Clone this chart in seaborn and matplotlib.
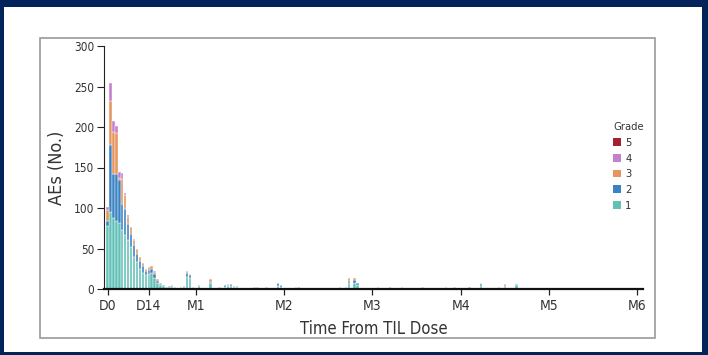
import matplotlib
matplotlib.use("Agg")
import matplotlib.pyplot as plt
from matplotlib.patches import Rectangle, Patch
import pandas as pd
import seaborn as sns

# Adverse events per day after TIL infusion, split by CTCAE grade
days = [0, 1, 2, 3, 4, 5, 6, 7, 8, 9, 10, 11, 12, 13, 14, 15, 16, 17, 18, 19,
        20, 21, 22, 23, 24, 25, 26, 27, 28, 29, 31, 33, 35, 38, 40, 41, 42, 43, 44,
        47, 50, 51, 54, 58, 59, 64, 65, 70, 76, 78, 79, 81, 82, 84, 85, 88, 92, 96,
        100, 107, 115, 118, 123, 127, 133, 135, 139, 145, 157, 168, 171, 178]
grade1 = [78, 95, 88, 84, 82, 73, 67, 60, 52, 40, 33, 25, 20, 17, 19, 20, 14, 8, 5, 4,
          2, 3, 3, 2, 1, 2, 3, 15, 13, 2, 4, 1, 7, 2, 3, 4, 4, 3, 3,
          1, 2, 2, 2, 4, 3, 2, 1, 1, 1, 1, 2, 2, 7, 8, 5, 1, 2, 1,
          2, 2, 3, 2, 1, 4, 2, 3, 5, 1, 1, 1, 1, 1]
grade2 = [6, 83, 54, 58, 53, 32, 32, 20, 16, 14, 10, 10, 8, 5, 4, 5, 4, 2, 1, 1,
          1, 1, 1, 0, 0, 1, 1, 5, 4, 1, 1, 0, 2, 1, 2, 1, 2, 1, 1,
          0, 1, 0, 1, 3, 2, 0, 1, 0, 0, 0, 0, 1, 3, 3, 2, 0, 0, 1,
          0, 0, 0, 1, 2, 2, 0, 1, 1, 0, 0, 0, 0, 0]
grade3 = [14, 54, 52, 50, 2, 31, 17, 9, 8, 7, 6, 5, 4, 3, 4, 4, 3, 2, 1, 0,
          0, 0, 1, 0, 0, 0, 0, 2, 2, 0, 0, 0, 3, 0, 0, 1, 0, 0, 0,
          0, 0, 0, 0, 1, 0, 0, 0, 0, 0, 0, 0, 0, 3, 2, 0, 0, 0, 0,
          0, 0, 0, 0, 0, 1, 0, 2, 0, 0, 0, 0, 0, 0]
grade4 = [3, 22, 14, 9, 8, 7, 3, 2, 1, 1, 1, 0, 0, 0, 0, 0, 1, 0, 0, 0,
          0, 0, 0, 0, 0, 0, 0, 0, 0, 0, 0, 0, 0, 0, 0, 0, 0, 0, 0,
          0, 0, 0, 0, 0, 0, 0, 0, 0, 0, 0, 0, 0, 1, 0, 0, 0, 0, 0,
          0, 0, 0, 0, 0, 0, 0, 0, 0, 0, 0, 0, 0, 0]
grade5 = [0] * len(days)

grade_levels = ["5", "4", "3", "2", "1"]
grade_colors = ["#a3212d", "#c47fcd", "#e6955f", "#3a82c2", "#62c0b6"]
tick_days = [0, 14, 30, 60, 90, 120, 150, 180]
tick_labels = ["D0", "D14", "M1", "M2", "M3", "M4", "M5", "M6"]

counts = {"1": grade1, "2": grade2, "3": grade3, "4": grade4, "5": grade5}
rows = []
for g, vals in counts.items():
    for d, v in zip(days, vals):
        if v > 0:
            rows.append({"day": d, "grade": g, "count": v})
df = pd.DataFrame(rows)
palette = dict(zip(grade_levels, grade_colors))

sns.set_style("white")
plt.rcParams["font.family"] = ["DejaVu Sans"]
plt.rcParams["font.stretch"] = "condensed"

fig = plt.figure(figsize=(7.08, 3.55), dpi=100)
fig.patch.set_facecolor("#03245a")
fig.patches.append(Rectangle((4 / 708, 3 / 355), 698 / 708, 345 / 355,
                             transform=fig.transFigure, facecolor="white",
                             edgecolor="none", zorder=-2))
fig.patches.append(Rectangle((40 / 708, 1 - 338 / 355), 615 / 708, 300 / 355,
                             transform=fig.transFigure, fill=False,
                             edgecolor="#9a9a9a", lw=1.2, zorder=-1))

ax = fig.add_axes([104 / 708, 1 - 289 / 355, 539 / 708, 243 / 355])
ax.set_facecolor("none")

sns.histplot(data=df, x="day", weights="count", hue="grade",
             hue_order=grade_levels, palette=palette, multiple="stack",
             discrete=True, shrink=0.82, edgecolor="white", linewidth=0.3,
             alpha=1, legend=False, ax=ax)

ax.set_xlim(-1.2, 182)
ax.set_ylim(0, 300)
ax.set_yticks([0, 50, 100, 150, 200, 250, 300])
ax.set_xticks(tick_days)
ax.set_xticklabels(tick_labels)
for side in ["top", "right"]:
    ax.spines[side].set_visible(False)
ax.spines["left"].set_color("#222222")
ax.spines["left"].set_linewidth(0.8)
ax.spines["bottom"].set_color("#111111")
ax.spines["bottom"].set_linewidth(1.6)
ax.spines["bottom"].set_zorder(3)
ax.tick_params(axis="y", direction="out", length=5, width=0.8, color="#222222",
               labelsize=8.5, labelcolor="#333333", pad=2, left=True)
ax.tick_params(axis="x", direction="out", length=4, width=0.9, color="#222222",
               labelsize=10, labelcolor="#333333", pad=3, bottom=True)
ax.set_xlabel("Time From TIL Dose", fontsize=12, color="#333333", labelpad=5)
ax.set_ylabel("AEs (No.)", fontsize=13, color="#333333", labelpad=6)

handles = [Patch(facecolor=palette[g], edgecolor="none") for g in grade_levels]
leg = ax.legend(handles, grade_levels, title="Grade", loc="upper left",
                bbox_to_anchor=(613 / 708, 1 - 122 / 355),
                bbox_transform=fig.transFigure, frameon=False, fontsize=8,
                title_fontsize=8, handlelength=0.7, handleheight=0.7,
                handletextpad=0.4, labelspacing=0.52, borderpad=0,
                borderaxespad=0, alignment="left")
for t in leg.get_texts():
    t.set_color("#333333")
leg.get_title().set_color("#333333")

fig.savefig("out.png", dpi=100, facecolor=fig.get_facecolor())
